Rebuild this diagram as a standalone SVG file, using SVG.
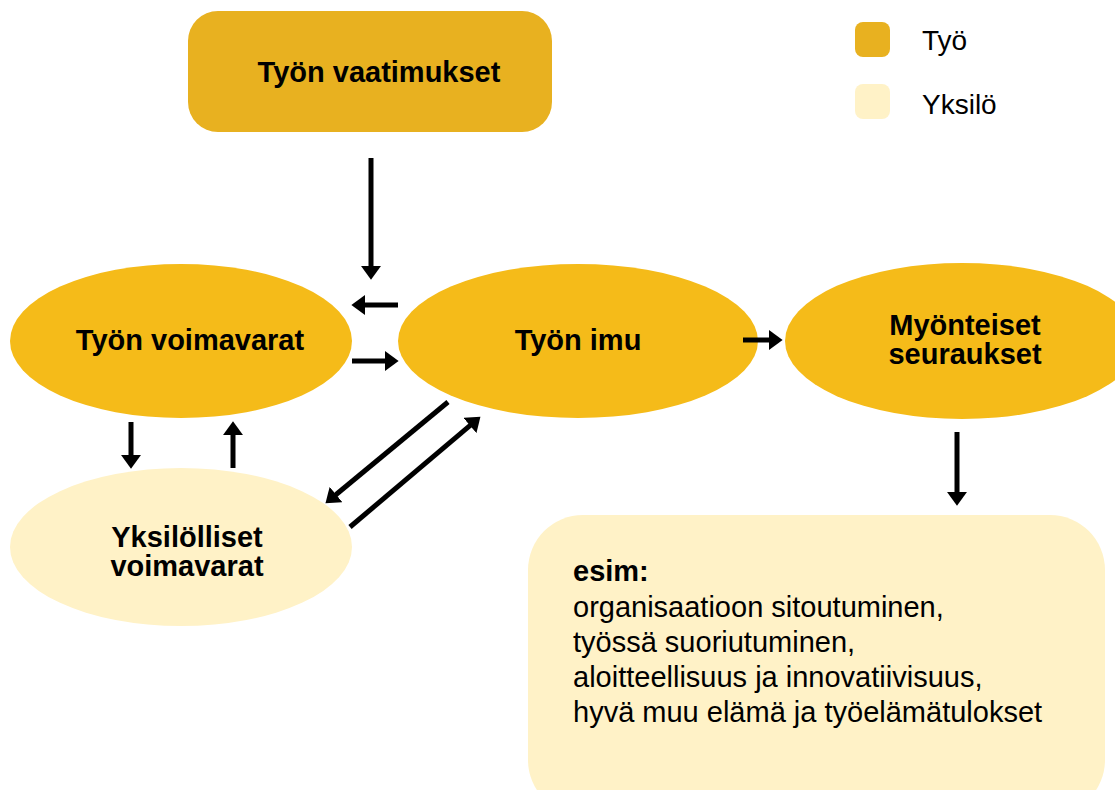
<svg xmlns="http://www.w3.org/2000/svg" width="1115" height="790" viewBox="0 0 1115 790">
<defs>
<style>
.t{font-family:"Liberation Sans",Arial,sans-serif;fill:#000;}
.b{font-weight:bold;font-size:29px;}
.r{font-size:29px;}
.lg{font-size:28px;}
.dark{fill:#E8B120;}
.ell{fill:#F5BB19;}
.light{fill:#FFF2C7;}
.c{stroke:#000;stroke-width:5;fill:none;marker-end:url(#ah);}
</style>
<marker id="ah" markerUnits="userSpaceOnUse" markerWidth="14" markerHeight="20" viewBox="0 0 13 19" refX="1" refY="9.5" orient="auto">
<path d="M0,0 L13,9.5 L0,19 z" fill="#000"/>
</marker>
</defs>
<rect width="1115" height="790" fill="#fff"/>
<g id="tyon-vaatimukset">
<rect class="dark" x="188" y="11" width="364" height="121" rx="30"/>
<text class="t b" x="379" y="82" text-anchor="middle">Työn vaatimukset</text>
</g>
<g id="legend">
<rect class="dark" x="855" y="22" width="35" height="35" rx="8"/>
<text class="t lg" x="922" y="50">Työ</text>
<rect class="light" x="855" y="84" width="35" height="35" rx="8"/>
<text class="t lg" x="922" y="114">Yksilö</text>
</g>
<g id="tyon-voimavarat">
<ellipse class="ell" cx="181" cy="341" rx="171" ry="77"/>
<text class="t b" x="190" y="350" text-anchor="middle">Työn voimavarat</text>
</g>
<g id="tyon-imu">
<ellipse class="ell" cx="578" cy="341" rx="180" ry="77"/>
<text class="t b" x="578" y="350" text-anchor="middle">Työn imu</text>
</g>
<g id="myonteiset-seuraukset">
<ellipse class="ell" cx="962" cy="341" rx="177" ry="78"/>
<text class="t b" text-anchor="middle"><tspan x="965" y="335">Myönteiset</tspan><tspan x="965" y="364">seuraukset</tspan></text>
</g>
<g id="yksilolliset-voimavarat">
<ellipse class="light" cx="181" cy="547" rx="171" ry="79"/>
<text class="t b" text-anchor="middle"><tspan x="187" y="547">Yksilölliset</tspan><tspan x="187" y="576">voimavarat</tspan></text>
</g>
<g id="esimerkit">
<rect class="light" x="528" y="515" width="577" height="300" rx="55"/>
<text class="t b" x="573" y="581">esim:</text>
<text class="t r" x="573" y="617">organisaatioon sitoutuminen,</text>
<text class="t r" x="573" y="652">työssä suoriutuminen,</text>
<text class="t r" x="573" y="687">aloitteellisuus ja innovatiivisuus,</text>
<text class="t r" x="573" y="722">hyvä muu elämä ja työelämätulokset</text>
</g>
<g id="connectors">
<line class="c" x1="371" y1="158" x2="371" y2="267"/>
<line class="c" x1="398" y1="305" x2="364" y2="305"/>
<line class="c" x1="352" y1="361" x2="386" y2="361"/>
<line class="c" x1="743" y1="340" x2="770" y2="340"/>
<line class="c" x1="957" y1="432" x2="957" y2="493"/>
<line class="c" x1="131" y1="422" x2="131" y2="456"/>
<line class="c" x1="233" y1="468" x2="233" y2="434"/>
<line class="c" x1="448" y1="402" x2="335.2" y2="495.3"/>
<line class="c" x1="350" y1="527" x2="470.8" y2="424.8"/>
</g>
</svg>
